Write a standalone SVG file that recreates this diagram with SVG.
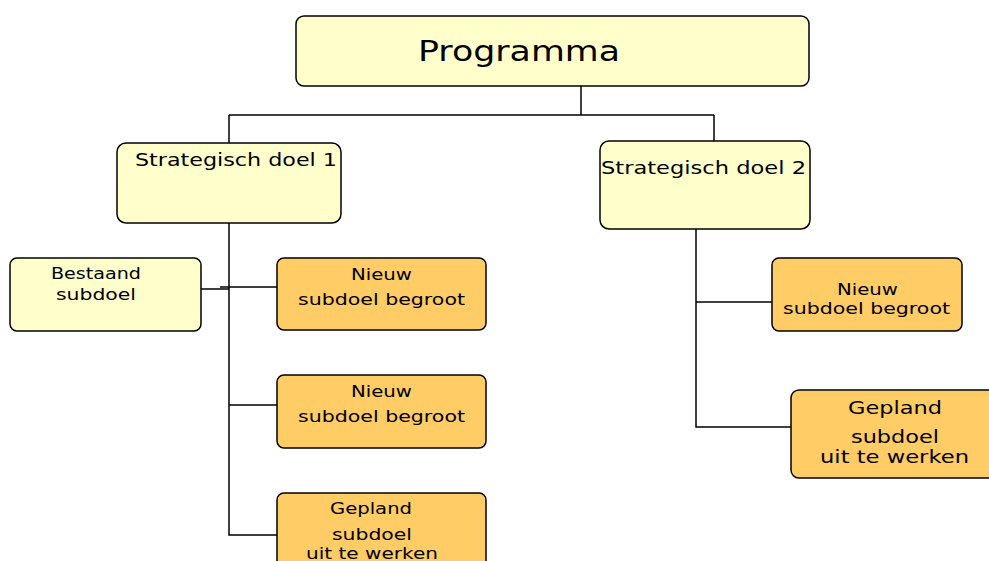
<svg xmlns="http://www.w3.org/2000/svg" width="989" height="561" viewBox="0 0 989 561">
<style>
.box{stroke:#000;stroke-width:1.5}
.y{fill:#FFFFCC}
.o{fill:#FFCC66}
text{font-family:"DejaVu Sans",Verdana,sans-serif;fill:#000;text-anchor:start}
.c{fill:none;stroke:#000;stroke-width:1.5}
</style>
<rect width="989" height="561" fill="#fff"/>
<g id="connectors">
<path class="c" d="M581 86V115M229 115H714M229 115V143M714 115V141"/>
<path class="c" d="M229 223V535H277M229 405H277M199 289H229M220 287H277"/>
<path class="c" d="M696 229V427H791M696 302H772"/>
</g>
<g id="programma">
<rect class="box y" x="296" y="16" width="513" height="70" rx="8"/>
<text x="418" y="61" font-size="28" textLength="202" lengthAdjust="spacingAndGlyphs">Programma</text>
</g>
<g id="doel1">
<rect class="box y" x="117" y="143" width="224" height="80" rx="9"/>
<text x="135" y="166" font-size="18" textLength="202" lengthAdjust="spacingAndGlyphs">Strategisch doel 1</text>
</g>
<g id="doel2">
<rect class="box y" x="600" y="141" width="210" height="88" rx="9"/>
<text x="601" y="174" font-size="18" textLength="205" lengthAdjust="spacingAndGlyphs">Strategisch doel 2</text>
</g>
<g id="bestaand">
<rect class="box y" x="10" y="258" width="191" height="73" rx="7"/>
<text x="51" y="279" font-size="15.5" textLength="90" lengthAdjust="spacingAndGlyphs">Bestaand</text>
<text x="56" y="300" font-size="15.5" textLength="80" lengthAdjust="spacingAndGlyphs">subdoel</text>
</g>
<g id="nieuw1">
<rect class="box o" x="277" y="258" width="209" height="72" rx="7"/>
<text x="351" y="280" font-size="15.5" textLength="61" lengthAdjust="spacingAndGlyphs">Nieuw</text>
<text x="298" y="305" font-size="15.5" textLength="167" lengthAdjust="spacingAndGlyphs">subdoel begroot</text>
</g>
<g id="nieuw2">
<rect class="box o" x="277" y="375" width="209" height="73" rx="7"/>
<text x="351" y="397" font-size="15.5" textLength="61" lengthAdjust="spacingAndGlyphs">Nieuw</text>
<text x="298" y="422" font-size="15.5" textLength="167" lengthAdjust="spacingAndGlyphs">subdoel begroot</text>
</g>
<g id="gepland1">
<rect class="box o" x="277" y="493" width="209" height="80" rx="7"/>
<text x="330" y="514" font-size="15.5" textLength="82" lengthAdjust="spacingAndGlyphs">Gepland</text>
<text x="332" y="540" font-size="15.5" textLength="80" lengthAdjust="spacingAndGlyphs">subdoel</text>
<text x="306" y="559" font-size="15.5" textLength="132" lengthAdjust="spacingAndGlyphs">uit te werken</text>
</g>
<g id="nieuw3">
<rect class="box o" x="772" y="258" width="190" height="73" rx="7"/>
<text x="837" y="295" font-size="15.5" textLength="61" lengthAdjust="spacingAndGlyphs">Nieuw</text>
<text x="783" y="314" font-size="15.5" textLength="167" lengthAdjust="spacingAndGlyphs">subdoel begroot</text>
</g>
<g id="gepland2">
<rect class="box o" x="791" y="390" width="210" height="88" rx="8"/>
<text x="848" y="414" font-size="17.5" textLength="94" lengthAdjust="spacingAndGlyphs">Gepland</text>
<text x="851" y="443" font-size="17.5" textLength="88" lengthAdjust="spacingAndGlyphs">subdoel</text>
<text x="820" y="463" font-size="17.5" textLength="149" lengthAdjust="spacingAndGlyphs">uit te werken</text>
</g>
</svg>
